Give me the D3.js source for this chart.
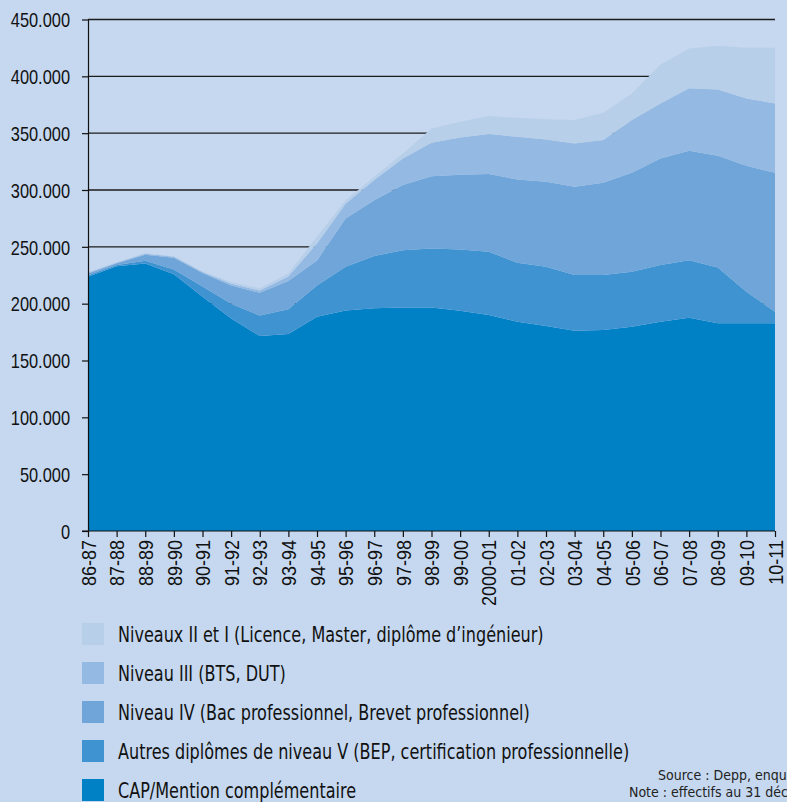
<!DOCTYPE html>
<html>
<head>
  <meta charset="utf-8">
  <style>
    body { margin: 0; background: #c5d8ef; }
    svg { display: block; font-family: "DejaVu Sans Condensed", "DejaVu Sans", sans-serif; font-stretch: condensed; }
    .grid line { stroke: #1c1c1c; stroke-width: 1.3; }
    .axis path, .axis line { stroke: #111; stroke-width: 1.2; }
    .axis text { fill: #111; font-size: 20px; }
    .legend text { fill: #111; font-size: 21px; }
    .note { fill: #222; font-size: 14px; }
  </style>
</head>
<body>
  <script src="https://d3js.org/d3.v7.min.js"></script>
  <script>
    // school years on the x axis
    var years = ["86-87", "87-88", "88-89", "89-90", "90-91", "91-92", "92-93", "93-94", "94-95", "95-96",
                 "96-97", "97-98", "98-99", "99-00", "2000-01", "01-02", "02-03", "03-04", "04-05", "05-06",
                 "06-07", "07-08", "08-09", "09-10", "10-11"];

    // series values (bottom layer first)
    var cap = [223700, 233000, 235400, 225800, 206000, 187000, 171500, 173300, 188500, 194000, 196000, 196700, 196700,
               193800, 190000, 184000, 180300, 176200, 176800, 179700, 184100, 187600, 182700, 182700, 182700];
    var autresV = [1300, 1000, 2300, 4200, 9000, 13000, 18000, 21700, 27500, 38500, 46000, 50300, 51900,
                   53900, 55700, 52000, 52200, 49000, 48400, 48300, 49900, 50700, 49200, 27800, 10200];
    var niveauIV = [1500, 1500, 5300, 10500, 12000, 16000, 20000, 25000, 22000, 42500, 49000, 57300, 63600,
                    65700, 68300, 73300, 74700, 77600, 81100, 87100, 93800, 96200, 98200, 110800, 122200];
    var niveauIII = [800, 500, 1000, 800, 800, 1500, 2000, 4000, 15000, 13000, 17700, 23500, 29300,
                     32800, 35200, 37500, 37300, 38200, 37600, 46400, 48400, 55100, 58400, 59200, 61100];
    var niveauIIetI = [500, 500, 500, 500, 500, 1500, 2000, 2500, 6000, 3000, 2900, 4400, 12700,
                       13800, 15800, 16700, 17800, 20500, 24000, 23500, 34200, 34900, 38300, 44600, 48900];

    var yTicks = [0, 50000, 100000, 150000, 200000, 250000, 300000, 350000, 400000, 450000];

    var series = [
      {key: "cap", label: "CAP/Mention complémentaire", values: cap, color: "#0080c5"},
      {key: "autres", label: "Autres diplômes de niveau V (BEP, certification professionnelle)", values: autresV, color: "#3f93d1"},
      {key: "iv", label: "Niveau IV (Bac professionnel, Brevet professionnel)", values: niveauIV, color: "#6fa5d8"},
      {key: "iii", label: "Niveau III (BTS, DUT)", values: niveauIII, color: "#94b9e2"},
      {key: "i", label: "Niveaux II et I (Licence, Master, diplôme d\u2019ingénieur)", values: niveauIIetI, color: "#b8cfea"}
    ];

    var table = years.map(function(y, i) {
      var row = {year: y};
      series.forEach(function(s) { row[s.key] = s.values[i]; });
      return row;
    });

    var W = 787, H = 802;
    var margin = {left: 88, right: 775, top: 19.5, bottom: 531};

    var x = d3.scalePoint().domain(years).range([margin.left, margin.right]);
    var y = d3.scaleLinear().domain([0, 450000]).range([margin.bottom, margin.top]);

    var fr = d3.formatLocale({decimal: ",", thousands: ".", grouping: [3], currency: ["", " €"]});
    var fmt = fr.format(",");

    var svg = d3.select("body").append("svg")
        .attr("width", W)
        .attr("height", H);

    // horizontal grid, behind the areas
    svg.append("g")
        .attr("class", "grid")
      .selectAll("line")
      .data(yTicks.filter(function(d) { return d > 0; }))
      .enter().append("line")
        .attr("x1", margin.left)
        .attr("x2", margin.right)
        .attr("y1", function(d) { return y(d); })
        .attr("y2", function(d) { return y(d); });

    var stack = d3.stack().keys(series.map(function(s) { return s.key; }));
    var layers = stack(table);

    var area = d3.area()
        .x(function(d) { return x(d.data.year); })
        .y0(function(d) { return y(d[0]); })
        .y1(function(d) { return y(d[1]); });

    svg.append("g")
      .selectAll("path")
      .data(layers)
      .enter().append("path")
        .attr("fill", function(d, i) { return series[i].color; })
        .attr("d", area);

    // y axis
    var yAxis = svg.append("g")
        .attr("class", "axis")
        .attr("transform", "translate(" + margin.left + ",0)")
        .call(d3.axisLeft(y).tickValues(yTicks).tickFormat(fmt).tickSize(6).tickSizeOuter(0));
    yAxis.selectAll("text")
        .attr("x", 0)
        .attr("dy", "0.36em")
        .attr("transform", "translate(-18,0) scale(0.82,1)");

    // x axis
    var xAxis = svg.append("g")
        .attr("class", "axis")
        .attr("transform", "translate(0," + margin.bottom + ")")
        .call(d3.axisBottom(x).tickSize(6).tickSizeOuter(0));
    xAxis.select(".domain").attr("d", "M" + (margin.left - 6) + ",0H" + margin.right);
    xAxis.selectAll("text")
        .attr("text-anchor", "end")
        .attr("transform", "translate(0,9) rotate(-90) scale(0.9,1)")
        .attr("x", 0)
        .attr("y", 0)
        .attr("dy", "0.36em");

    // legend, top layer first
    var legend = svg.append("g")
        .attr("class", "legend")
      .selectAll("g")
      .data(series.slice().reverse())
      .enter().append("g")
        .attr("transform", function(d, i) { return "translate(82," + (623 + i * 39) + ")"; });
    legend.append("rect")
        .attr("width", 22)
        .attr("height", 22)
        .attr("fill", function(d) { return d.color; });
    legend.append("text")
        .attr("transform", "translate(36,19) scale(0.85,1)")
        .text(function(d) { return d.label; });

    svg.append("text")
        .attr("class", "note")
        .attr("x", 658)
        .attr("y", 780)
        .text("Source : Depp, enquête Sifa");
    svg.append("text")
        .attr("class", "note")
        .attr("x", 629)
        .attr("y", 797)
        .text("Note : effectifs au 31 décembre");
  </script>
</body>
</html>
